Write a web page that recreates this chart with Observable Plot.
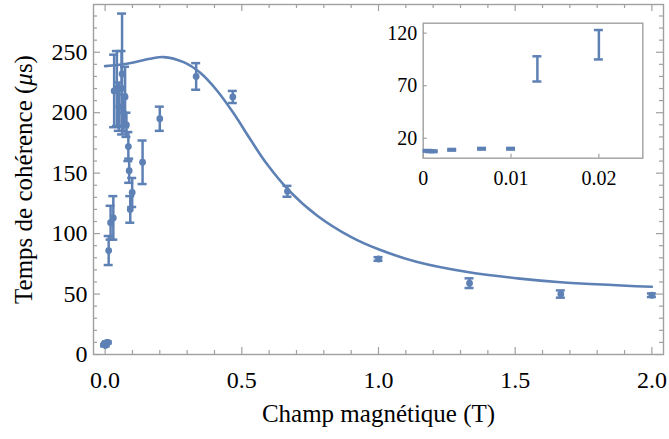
<!DOCTYPE html>
<html><head><meta charset="utf-8">
<script src="https://cdn.jsdelivr.net/npm/d3@7"></script>
<script src="https://cdn.jsdelivr.net/npm/@observablehq/plot@0.6"></script>
<style>
html,body{margin:0;padding:0;background:#fff;}
#wrap{position:relative;width:669px;height:439px;}
#inset{position:absolute;left:375px;top:15px;}
svg{max-width:none !important;}
svg text{font-family:'Liberation Serif','Times New Roman',serif !important;}
</style></head><body><div id="wrap"><div id="main"></div><div id="inset"></div></div>
<script>
// Measured coherence times (field in T, time in µs, error in µs)
const field  = [0.0005, 0.0008, 0.0012, 0.0033, 0.0067, 0.01, 0.013, 0.02, 0.03, 0.033, 0.043, 0.05, 0.06, 0.062, 0.067, 0.073, 0.078, 0.085, 0.088, 0.092, 0.099, 0.137, 0.2, 0.333, 0.467, 0.667, 1.0, 1.333, 1.667, 2.0];
const tau    = [8, 7.6, 7.6, 9, 10, 10, 86, 109, 113, 218, 220, 205, 220, 232, 200, 213, 190, 172, 152, 120, 134, 159, 195, 230, 213, 135, 79, 59, 50, 49];
const tauErr = [0.8, 0.8, 0.8, 0.8, 0.8, 0.8, 12, 14, 18, 30, 31, 20, 31, 50, 15, 25, 10, 12, 10, 11, 12, 18, 10, 11, 5, 4.5, 1.5, 4, 3, 1.5];
// Fitted curve
const fitField = [0, 0.08, 0.165, 0.214, 0.287, 0.348, 0.409, 0.47, 0.531, 0.592, 0.671, 0.775, 0.897, 1.0, 1.142, 1.331, 1.508, 1.667, 2.0];
const fitTau   = [238.5, 240.5, 244.6, 246, 241.8, 233, 218.4, 199.5, 178, 157.5, 136, 115, 97.5, 87, 76.5, 68, 63, 59.8, 56];
// Tick labels
const xTickLabels = [0, 0.5, 1, 1.5, 2];
const yTickLabels = [0, 50, 100, 150, 200, 250];
const insetXTicks = [0, 0.01, 0.02];
const insetYTicks = [20, 70, 120];

const blue = "#5E81B5";
const gray = "#a0a0a0";
const font = "'Liberation Serif','Times New Roman',serif";

const data = field.map((x, i) => ({x, y: tau[i], lo: tau[i] - tauErr[i], hi: tau[i] + tauErr[i]}));
const fit = fitField.map((x, i) => ({x, y: fitTau[i]}));

const xDom = [-0.0425, 2.0425], yDom = [0, 289.5];
const xMinor = d3.range(0, 21).map(i => i / 10);
const yMinor = d3.range(0, 29).map(i => i * 10);
const isMajX = d => Math.abs(d * 2 - Math.round(d * 2)) < 1e-9;
const isMajY = d => d % 50 === 0;

function errorMarks(d) {
  return [
    Plot.ruleX(d, {x: "x", y1: "lo", y2: "hi", stroke: blue, strokeWidth: 2.5}),
    Plot.ruleY(d, {y: "hi", x1: "x", x2: "x", insetLeft: -4.5, insetRight: -4.5, stroke: blue, strokeWidth: 2.5}),
    Plot.ruleY(d, {y: "lo", x1: "x", x2: "x", insetLeft: -4.5, insetRight: -4.5, stroke: blue, strokeWidth: 2.5})
  ];
}

const main = Plot.plot({
  width: 669, height: 439,
  marginLeft: 93, marginRight: 6, marginTop: 4, marginBottom: 85,
  x: {domain: xDom, label: null},
  y: {domain: yDom, label: null},
  style: {fontFamily: font, fontSize: "24px", color: "#000", background: "transparent"},
  marks: [
    Plot.frame({stroke: gray, strokeWidth: 1.4}),
    // inward ticks, bottom & top
    Plot.ruleX(xMinor.filter(d => !isMajX(d)), {x: d => d, y1: yDom[0], y2: yDom[0], insetBottom: 4, stroke: gray, strokeWidth: 1.2}),
    Plot.ruleX(xMinor.filter(isMajX), {x: d => d, y1: yDom[0], y2: yDom[0], insetBottom: 7, stroke: gray, strokeWidth: 1.2}),
    Plot.ruleX(xMinor.filter(d => !isMajX(d)), {x: d => d, y1: yDom[1], y2: yDom[1], insetTop: 4, stroke: gray, strokeWidth: 1.2}),
    Plot.ruleX(xMinor.filter(isMajX), {x: d => d, y1: yDom[1], y2: yDom[1], insetTop: 7, stroke: gray, strokeWidth: 1.2}),
    // inward ticks, left & right
    Plot.ruleY(yMinor.filter(d => !isMajY(d)), {y: d => d, x1: xDom[0], x2: xDom[0], insetLeft: 4, stroke: gray, strokeWidth: 1.2}),
    Plot.ruleY(yMinor.filter(isMajY), {y: d => d, x1: xDom[0], x2: xDom[0], insetLeft: 7, stroke: gray, strokeWidth: 1.2}),
    Plot.ruleY(yMinor.filter(d => !isMajY(d)), {y: d => d, x1: xDom[1], x2: xDom[1], insetRight: 4, stroke: gray, strokeWidth: 1.2}),
    Plot.ruleY(yMinor.filter(isMajY), {y: d => d, x1: xDom[1], x2: xDom[1], insetRight: 7, stroke: gray, strokeWidth: 1.2}),
    Plot.axisX(xTickLabels, {tickSize: 0, tickPadding: 16, tickFormat: d3.format(".1f"), fontSize: 24, fontFamily: font, label: null}),
    Plot.axisY(yTickLabels, {tickSize: 0, tickPadding: 6, tickFormat: d => String(d), fontSize: 24, fontFamily: font, label: null}),
    Plot.line(fit, {x: "x", y: "y", curve: "catmull-rom", stroke: blue, strokeWidth: 2.6}),
    ...errorMarks(data),
    Plot.dot(data, {x: "x", y: "y", r: 3.4, fill: blue}),
    Plot.text(["Champ magnétique (T)"], {frameAnchor: "bottom", dy: 59, lineAnchor: "middle", textAnchor: "middle", fontSize: 25}),
    Plot.text(["Temps de cohérence (μs)"], {frameAnchor: "left", dx: -70, rotate: -90, lineAnchor: "middle", textAnchor: "middle", fontSize: 25})
  ]
});
document.getElementById("main").appendChild(main);
// italic mu
main.querySelectorAll("text").forEach(t => {
  if (t.textContent === "Temps de cohérence (μs)") {
    t.innerHTML = 'Temps de cohérence (<tspan font-style="italic">μ</tspan>s)';
  }
});

const insetData = data.filter(d => d.x <= 0.025);
const ixDom = [0, 0.025], iyDom = [1, 129.5];
const inset = Plot.plot({
  width: 278, height: 180,
  marginLeft: 47.7, marginRight: 10.7, marginTop: 7.7, marginBottom: 37.3,
  x: {domain: ixDom, label: null},
  y: {domain: iyDom, label: null},
  style: {fontFamily: font, fontSize: "20px", color: "#000", background: "transparent"},
  marks: [
    Plot.frame({stroke: gray, strokeWidth: 1.4, fill: "white"}),
    Plot.ruleX(insetXTicks, {x: d => d, y1: iyDom[0], y2: iyDom[0], insetBottom: 4, stroke: gray, strokeWidth: 1.2}),
    Plot.ruleY(insetYTicks, {y: d => d, x1: ixDom[0], x2: ixDom[0], insetLeft: 4, stroke: gray, strokeWidth: 1.2}),
    Plot.axisX(insetXTicks, {tickSize: 0, tickPadding: 13, tickFormat: d => String(d), fontSize: 20, fontFamily: font, label: null}),
    Plot.axisY(insetYTicks, {tickSize: 0, tickPadding: 6, tickFormat: d => String(d), fontSize: 20, fontFamily: font, label: null}),
    ...errorMarks(insetData)
  ]
});
document.getElementById("inset").appendChild(inset);
</script></body></html>
